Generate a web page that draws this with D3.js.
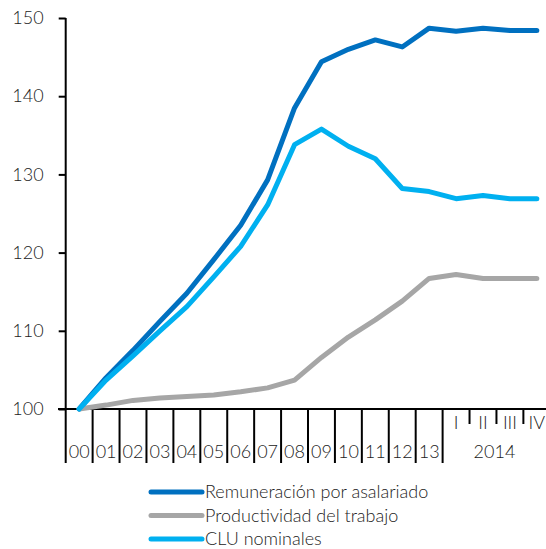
<!DOCTYPE html>
<html>
<head>
<meta charset="utf-8">
<script src="https://cdn.jsdelivr.net/npm/d3@7"></script>
<style>
  body { margin: 0; background: #fff; }
  text { font-family: Lato, "Open Sans", sans-serif; font-weight: 300; fill: #222; }
</style>
</head>
<body>
<div id="vis"></div>
<script>
const FRAME_WIDTH = 546;
const FRAME_HEIGHT = 549;

// periods: annual 2000-2013 then 2014 quarters
const periods = ["00","01","02","03","04","05","06","07","08","09","10","11","12","13","I","II","III","IV"];
const quarterLabels = ["I","II","III","IV"];
const yTicks = [100, 110, 120, 130, 140, 150];

const remuneracion = [100, 104.0, 107.5, 111.2, 114.8, 119.1, 123.5, 129.3, 138.5, 144.4, 146.0, 147.2, 146.3, 148.7, 148.3, 148.7, 148.4, 148.4];
const productividad = [100, 100.5, 101.1, 101.4, 101.6, 101.8, 102.2, 102.7, 103.7, 106.6, 109.2, 111.4, 113.8, 116.7, 117.2, 116.7, 116.7, 116.7];
const cluNominales = [100, 103.7, 106.8, 110.0, 113.1, 116.9, 120.8, 126.1, 133.8, 135.8, 133.6, 132.0, 128.2, 127.8, 126.9, 127.3, 126.9, 126.9];

const seriesNames = ["Remuneración por asalariado", "Productividad del trabajo", "CLU nominales"];
const seriesColors = ["#0070C0", "#A6A6A6", "#00B0F0"];
const seriesData = [remuneracion, productividad, cluNominales];

const svg = d3.select("#vis")
  .append("svg")
    .attr("width", FRAME_WIDTH)
    .attr("height", FRAME_HEIGHT);

const X_SCALE = d3.scaleBand()
  .domain(periods)
  .range([65.7, 550.3])
  .padding(0);

const Y_SCALE = d3.scaleLinear()
  .domain([100, 150])
  .range([409, 18]);

// y axis
const yAxis = svg.append("g")
  .attr("transform", "translate(65.7,0)")
  .call(d3.axisLeft(Y_SCALE).tickValues(yTicks).tickSize(7).tickPadding(15));
yAxis.select(".domain").remove();
yAxis.selectAll("line").attr("stroke", "#000").attr("stroke-width", 2);
yAxis.selectAll("text")
  .attr("font-size", "18px")
  .attr("fill", "#222")
  .attr("font-family", "Lato, 'Open Sans', sans-serif")
  .attr("font-weight", 300);

svg.append("line")
  .attr("x1", 65.7).attr("x2", 65.7)
  .attr("y1", Y_SCALE(150)).attr("y2", 463)
  .attr("stroke", "#000").attr("stroke-width", 2);

// x axis baseline
svg.append("line")
  .attr("x1", 58).attr("x2", FRAME_WIDTH)
  .attr("y1", Y_SCALE(100)).attr("y2", Y_SCALE(100))
  .attr("stroke", "#000").attr("stroke-width", 2);

// separators between periods
svg.selectAll("line.sep")
  .data(periods.slice(1))
  .enter()
  .append("line")
    .attr("class", "sep")
    .attr("x1", d => X_SCALE(d)).attr("x2", d => X_SCALE(d))
    .attr("y1", Y_SCALE(100))
    .attr("y2", d => quarterLabels.includes(d) && d !== "I" ? 424 : 463)
    .attr("stroke", "#000").attr("stroke-width", 2);

// year labels
svg.selectAll("text.year")
  .data(periods.filter(d => !quarterLabels.includes(d)))
  .enter()
  .append("text")
    .attr("class", "year")
    .attr("x", d => X_SCALE(d) + X_SCALE.bandwidth() / 2)
    .attr("y", 458)
    .attr("text-anchor", "middle")
    .attr("font-size", "18px")
    .text(d => d);

svg.selectAll("text.quarter")
  .data(quarterLabels)
  .enter()
  .append("text")
    .attr("class", "quarter")
    .attr("x", d => X_SCALE(d) + X_SCALE.bandwidth() / 2)
    .attr("y", 429)
    .attr("text-anchor", "middle")
    .attr("font-size", "18px")
    .text(d => d);

svg.append("text")
  .attr("x", (X_SCALE("I") + X_SCALE("IV") + X_SCALE.bandwidth()) / 2 - 2)
  .attr("y", 458)
  .attr("text-anchor", "middle")
  .attr("font-size", "18px")
  .text("2014");

// lines
const line = d3.line()
  .x((d, i) => X_SCALE(periods[i]) + X_SCALE.bandwidth() / 2)
  .y(d => Y_SCALE(d));

svg.selectAll("path.series")
  .data(seriesData)
  .enter()
  .append("path")
    .attr("class", "series")
    .attr("d", d => line(d))
    .attr("fill", "none")
    .attr("stroke", (d, i) => seriesColors[i])
    .attr("stroke-width", 5)
    .attr("stroke-linejoin", "round")
    .attr("stroke-linecap", "round");

// legend
const legend = svg.selectAll("g.legend")
  .data(seriesNames)
  .enter()
  .append("g")
    .attr("class", "legend")
    .attr("transform", (d, i) => "translate(0," + (492 + i * 23.5) + ")");

legend.append("line")
  .attr("x1", 151).attr("x2", 202)
  .attr("y1", 0).attr("y2", 0)
  .attr("stroke", (d, i) => seriesColors[i])
  .attr("stroke-width", 5)
  .attr("stroke-linecap", "round");

legend.append("text")
  .attr("x", 205)
  .attr("y", 6)
  .attr("font-size", "18px")
  .text(d => d);
</script>
</body>
</html>
